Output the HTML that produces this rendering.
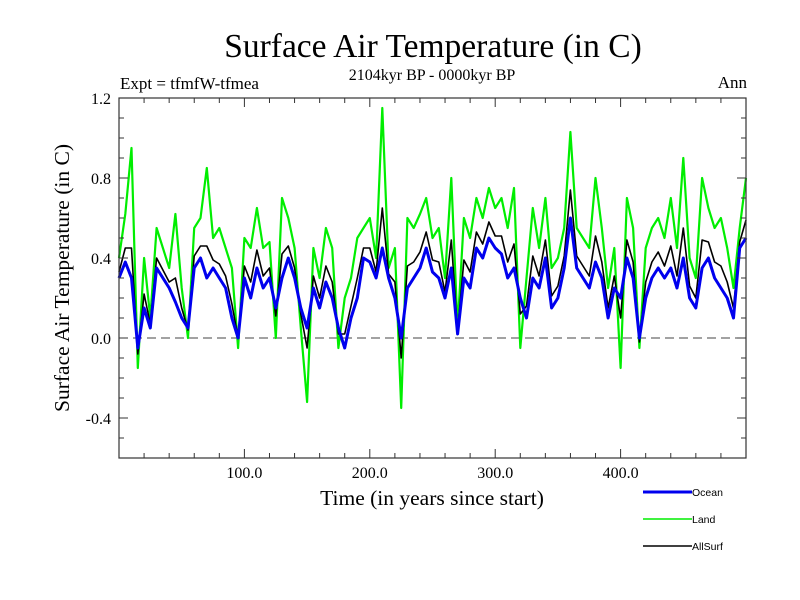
<!DOCTYPE html>
<html><head><meta charset="utf-8"><style>
body{margin:0;background:#fff;}
svg{display:block;}
.serif{font-family:"Liberation Serif",serif;}
.sans{font-family:"Liberation Sans",sans-serif;}
</style></head><body>
<svg id="chart" width="800" height="600" viewBox="0 0 800 600">
<text class="serif" x="433" y="57" font-size="33.5" text-anchor="middle">Surface Air Temperature (in C)</text>
<text class="serif" x="120" y="89" font-size="17">Expt = tfmfW-tfmea</text>
<text class="serif" x="432" y="80" font-size="16" text-anchor="middle">2104kyr BP - 0000kyr BP</text>
<text class="serif" x="747" y="88" font-size="17" text-anchor="end">Ann</text>
<text class="serif" x="0" y="0" font-size="21.5" text-anchor="middle" transform="translate(69,278) rotate(-90)">Surface Air Temperature (in C)</text>
<text class="serif" x="432" y="505" font-size="21.5" text-anchor="middle">Time (in years since start)</text>
<g id="plot"></g>
<g id="legend"></g>
</svg>
<script>
const years = [0,5,10,15,20,25,30,35,40,45,50,55,60,65,70,75,80,85,90,95,100,105,110,115,120,125,130,135,140,145,150,155,160,165,170,175,180,185,190,195,200,205,210,215,220,225,230,235,240,245,250,255,260,265,270,275,280,285,290,295,300,305,310,315,320,325,330,335,340,345,350,355,360,365,370,375,380,385,390,395,400,405,410,415,420,425,430,435,440,445,450,455,460,465,470,475,480,485,490,495,500];
const landValues = [0.40,0.62,0.95,-0.15,0.40,0.10,0.55,0.45,0.35,0.62,0.25,0.00,0.55,0.60,0.85,0.50,0.55,0.45,0.35,-0.05,0.50,0.45,0.65,0.45,0.48,0.00,0.70,0.60,0.45,0.05,-0.32,0.45,0.30,0.55,0.45,-0.05,0.20,0.30,0.50,0.55,0.60,0.40,1.15,0.35,0.45,-0.35,0.60,0.55,0.62,0.70,0.50,0.55,0.30,0.80,0.05,0.60,0.50,0.70,0.60,0.75,0.65,0.70,0.55,0.75,-0.05,0.30,0.65,0.45,0.70,0.35,0.40,0.55,1.03,0.55,0.50,0.45,0.80,0.55,0.25,0.45,-0.15,0.70,0.55,-0.05,0.45,0.55,0.60,0.50,0.70,0.45,0.90,0.40,0.30,0.80,0.65,0.55,0.60,0.45,0.25,0.55,0.80];
const oceanValues = [0.30,0.38,0.30,-0.05,0.15,0.05,0.35,0.30,0.25,0.18,0.10,0.05,0.35,0.40,0.30,0.35,0.30,0.25,0.10,0.00,0.30,0.20,0.35,0.25,0.30,0.15,0.30,0.40,0.30,0.15,0.05,0.25,0.15,0.28,0.20,0.05,-0.05,0.10,0.20,0.40,0.38,0.30,0.45,0.30,0.20,0.00,0.25,0.30,0.35,0.45,0.33,0.30,0.20,0.35,0.02,0.30,0.25,0.45,0.40,0.50,0.45,0.42,0.30,0.35,0.20,0.10,0.30,0.25,0.40,0.15,0.20,0.35,0.60,0.35,0.30,0.25,0.38,0.30,0.10,0.25,0.20,0.40,0.30,0.00,0.20,0.30,0.35,0.30,0.35,0.25,0.40,0.20,0.15,0.35,0.40,0.30,0.25,0.20,0.10,0.45,0.50];
const allSurfValues = [0.33,0.45,0.45,-0.08,0.22,0.07,0.40,0.34,0.28,0.30,0.15,0.04,0.41,0.46,0.46,0.39,0.37,0.31,0.17,0.00,0.36,0.28,0.44,0.31,0.35,0.11,0.42,0.46,0.35,0.12,-0.05,0.31,0.20,0.36,0.28,0.02,0.02,0.16,0.30,0.45,0.45,0.33,0.65,0.32,0.28,-0.10,0.36,0.38,0.43,0.53,0.39,0.38,0.23,0.49,0.03,0.39,0.33,0.53,0.47,0.58,0.51,0.51,0.38,0.47,0.12,0.16,0.41,0.31,0.49,0.21,0.26,0.41,0.74,0.41,0.36,0.31,0.51,0.38,0.15,0.31,0.10,0.49,0.38,-0.02,0.28,0.38,0.43,0.36,0.46,0.31,0.55,0.26,0.20,0.49,0.48,0.38,0.36,0.28,0.15,0.48,0.59];
const yTickValues = [-0.4,0.0,0.4,0.8,1.2];
const yTickLabels = ["-0.4","0.0","0.4","0.8","1.2"];
const xTickValues = [100,200,300,400];
const xTickLabels = ["100.0","200.0","300.0","400.0"];
const seriesNames = ["Ocean","Land","AllSurf"];

const NS="http://www.w3.org/2000/svg";
const L=119,R=746,T=98,B=458,XMIN=0,XMAX=500,YMIN=-0.6,YMAX=1.2;
const xs=v=>L+(v-XMIN)/(XMAX-XMIN)*(R-L);
const ys=v=>B-(v-YMIN)/(YMAX-YMIN)*(B-T);
const plot=document.getElementById('plot');
function mk(tag,attrs,parent){const e=document.createElementNS(NS,tag);for(const k in attrs)e.setAttribute(k,attrs[k]);(parent||plot).appendChild(e);return e;}

let z=mk('line',{x1:L,x2:R,y1:ys(0),y2:ys(0),stroke:'#444','stroke-width':1,'stroke-dasharray':'9,5'});



function series(vals,color,w,name){
  const d=vals.map((v,i)=>(i?'L':'M')+xs(years[i]).toFixed(1)+','+ys(v).toFixed(1)).join('');
  const p=mk('path',{d:d,fill:'none',stroke:color,'stroke-width':w,'stroke-linejoin':'round'});
  
  
}
series(landValues,'#00ee00',2.2,'land-line');
series(allSurfValues,'#000',1.6,'allsurf-line');
series(oceanValues,'#0000ee',3,'ocean-line');

let fr=mk('rect',{x:L,y:T,width:R-L,height:B-T,fill:'none',stroke:'#333','stroke-width':1.2});



for(let v=20;v<XMAX;v+=20){
  const major=(v%100===0);const len=major?9:5;const x=xs(v);
  mk('line',{x1:x,x2:x,y1:B,y2:B-len,stroke:'#333'});
  mk('line',{x1:x,x2:x,y1:T,y2:T+len,stroke:'#333'});
}
for(let k=-5;k<=11;k++){
  const v=k/10;const major=(k%4===0);const len=major?9:5;const y=ys(v);
  mk('line',{x1:L,x2:L+len,y1:y,y2:y,stroke:'#333'});
  mk('line',{x1:R,x2:R-len,y1:y,y2:y,stroke:'#333'});
}
yTickValues.forEach((v,i)=>{
  const t=mk('text',{x:111,y:ys(v)+6,'font-size':16,'text-anchor':'end','class':'serif'});
  t.textContent=yTickLabels[i];
  
  
});
xTickValues.forEach((v,i)=>{
  const t=mk('text',{x:xs(v),y:478,'font-size':16,'text-anchor':'middle','class':'serif'});
  t.textContent=xTickLabels[i];
  
  
});

const leg=document.getElementById('legend');
const legColors=['#0000ee','#00ee00','#000'];const legW=[3,1.6,1.4];
seriesNames.forEach((n,i)=>{
  const y=492+i*27;
  const g=mk('g',{},leg);
  
  
  mk('line',{x1:643,x2:692,y1:y,y2:y,stroke:legColors[i],'stroke-width':legW[i]},g);
  const t=mk('text',{x:692,y:y+4,'font-size':10.5,'class':'sans'},g);
  t.textContent=n;
});
</script>
</body></html>
